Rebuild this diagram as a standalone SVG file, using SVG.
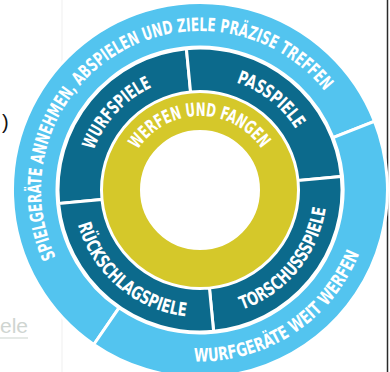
<svg xmlns="http://www.w3.org/2000/svg" width="390" height="372" viewBox="0 0 390 372">
<style>
.bg{fill:#ffffff}
.blue{fill:#53c4ef;stroke:#ffffff;stroke-width:3}
.teal{fill:#0c6a8c;stroke:#ffffff;stroke-width:3}
.lbl{font-family:"Liberation Sans Narrow","DejaVu Sans Condensed","DejaVu Sans",sans-serif;font-weight:bold;fill:#ffffff;font-size:18.5px}
</style>
<defs>
<path id="pOuterTop" d="M55.9 257.2 A159 159 0 0 1 337.7 110.5"/>
<path id="pOuterBot" d="M194.0 361.4 A171.5 171.5 0 0 0 365.7 234.4"/>
<path id="pYellow" d="M137.87 149.8 A74 74 0 0 1 267.07 158.73"/>
<path id="pWurf" d="M93.69 150.25 A113.5 113.5 0 0 1 180.29 78.22"/>
<path id="pPass" d="M236.39 82.49 A113.5 113.5 0 0 1 311.78 170.29"/>
<path id="pTor" d="M242.19 309.79 A127 127 0 0 0 327 190"/>
<path id="pRueck" d="M77.8 224.58 A127 127 0 0 0 213.27 316.3"/>
</defs>
<rect class="bg" x="0" y="0" width="390" height="372"/>
<line x1="62" y1="0" x2="62" y2="372" stroke="#efefef" stroke-width="1"/>
<line x1="387.5" y1="0" x2="387.5" y2="372" stroke="#2a2a2a" stroke-width="1.5"/>
<text x="2" y="129" font-family="Liberation Sans, sans-serif" font-size="20" fill="#111111">)</text>
<text x="0" y="333" font-family="Liberation Sans, sans-serif" font-size="21" fill="#cfd5d1">ele</text>
<line x1="0" y1="338" x2="28" y2="338" stroke="#dde2de" stroke-width="1.5"/>

<g id="outer-spielgeraete">
<path class="blue" d="M93.8 344.5 A187.5 187.5 0 1 1 374.45 121.28 L333.05 137.59 A143 143 0 1 0 119.0 307.85 Z"/>
<text class="lbl"><textPath href="#pOuterTop" textLength="462" lengthAdjust="spacingAndGlyphs">SPIELGERÄTE ANNEHMEN, ABSPIELEN UND ZIELE PRÄZISE TREFFEN</textPath></text>
</g>
<g id="outer-wurfgeraete">
<path class="blue" d="M374.45 121.28 A187.5 187.5 0 0 1 93.8 344.5 L119.0 307.85 A143 143 0 0 0 333.05 137.59 Z"/>
<text class="lbl"><textPath href="#pOuterBot" textLength="210" lengthAdjust="spacingAndGlyphs">WURFGERÄTE WEIT WERFEN</textPath></text>
</g>
<g id="wurfspiele">
<path class="teal" d="M58.65 203.61 A142 142 0 0 1 186.39 48.65 L190.56 91.95 A98.5 98.5 0 0 0 101.95 199.44 Z"/>
<text class="lbl"><textPath href="#pWurf" textLength="88" lengthAdjust="spacingAndGlyphs">WURFSPIELE</textPath></text>
</g>
<g id="passspiele">
<path class="teal" d="M186.39 48.65 A142 142 0 0 1 341.35 176.39 L298.05 180.56 A98.5 98.5 0 0 0 190.56 91.95 Z"/>
<text class="lbl"><textPath href="#pPass" textLength="77" lengthAdjust="spacingAndGlyphs">PASSPIELE</textPath></text>
</g>
<g id="torschussspiele">
<path class="teal" d="M341.35 176.39 A142 142 0 0 1 213.61 331.35 L209.44 288.05 A98.5 98.5 0 0 0 298.05 180.56 Z"/>
<text class="lbl"><textPath href="#pTor" textLength="138" lengthAdjust="spacingAndGlyphs">TORSCHUSSSPIELE</textPath></text>
</g>
<g id="rueckschlagspiele">
<path class="teal" d="M213.61 331.35 A142 142 0 0 1 58.65 203.61 L101.95 199.44 A98.5 98.5 0 0 0 209.44 288.05 Z"/>
<text class="lbl"><textPath href="#pRueck" textLength="150" lengthAdjust="spacingAndGlyphs">RÜCKSCHLAGSPIELE</textPath></text>
</g>
<g id="werfen-und-fangen">
<circle cx="200" cy="190" r="78.5" fill="none" stroke="#d5c82a" stroke-width="37"/>
<text class="lbl"><textPath href="#pYellow" textLength="146" lengthAdjust="spacingAndGlyphs">WERFEN UND FANGEN</textPath></text>
</g>
<g id="connectors"></g>
</svg>
